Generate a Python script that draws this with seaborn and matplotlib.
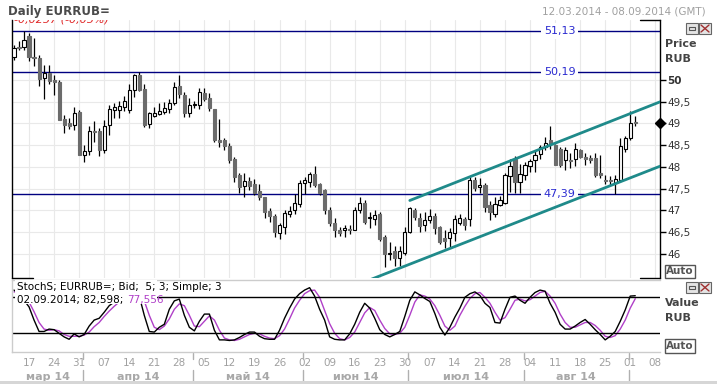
import numpy as np
import pandas as pd
import matplotlib
matplotlib.use("Agg")
import matplotlib.pyplot as plt
import seaborn as sns
from matplotlib.patches import Rectangle
from matplotlib.lines import Line2D

sns.set_style("white")
plt.rcParams['font.family'] = ['DejaVu Sans']

# ---- daily candles EURRUB=, trading days 12.03.2014 .. 02.09.2014
opens = [50.52, 50.76, 50.75, 51.00, 50.53, 50.51, 50.05, 50.16, 50.01, 49.95,
         49.11, 49.01, 48.96, 49.26, 48.27, 48.36, 48.82, 48.83, 48.40, 48.96,
         49.32, 49.30, 49.37, 49.30, 49.78, 50.11, 49.79, 48.99, 49.17, 49.22,
         49.27, 49.33, 49.48, 49.86, 49.66, 49.23, 49.42, 49.43, 49.71, 49.58,
         49.33, 48.62, 48.62, 48.48, 48.18, 47.82, 47.56, 47.68, 47.61, 47.45,
         47.30, 46.99, 46.87, 46.49, 46.63, 46.92, 47.00, 47.15, 47.63, 47.66,
         47.84, 47.61, 47.46, 47.01, 46.72, 46.55, 46.54, 46.58, 46.54, 47.00,
         47.18, 46.83, 46.80, 46.92, 46.40, 46.01, 46.06, 45.90, 46.03, 46.51,
         47.00, 46.82, 46.67, 46.77, 46.87, 46.61, 46.36, 46.36, 46.49, 46.72,
         46.80, 46.80, 47.69, 47.53, 47.59, 47.13, 46.92, 47.13, 47.17, 47.79,
         48.18, 47.66, 47.82, 48.02, 48.15, 48.30, 48.45, 48.62, 48.51, 48.41,
         48.16, 48.15, 48.18, 48.39, 48.24, 48.20, 48.20, 47.86, 47.70, 47.69,
         47.64, 47.70, 48.41, 48.66, 49.03]
highs = [50.81, 50.90, 51.13, 51.08, 50.97, 50.58, 50.35, 50.34, 50.12, 50.01,
         49.20, 49.13, 49.37, 49.32, 48.50, 48.94, 49.05, 48.90, 49.09, 49.42,
         49.47, 49.52, 49.63, 49.91, 50.14, 50.19, 49.91, 49.27, 49.37, 49.46,
         49.50, 49.56, 49.96, 50.11, 49.73, 49.59, 49.52, 49.81, 49.81, 49.69,
         49.33, 49.10, 48.66, 48.54, 48.22, 47.87, 47.87, 47.78, 47.72, 47.61,
         47.31, 47.05, 46.92, 46.72, 47.02, 47.10, 47.37, 47.70, 47.78, 47.89,
         48.02, 47.64, 47.49, 47.08, 46.82, 46.62, 46.66, 46.66, 47.08, 47.32,
         47.24, 46.97, 47.02, 46.97, 46.44, 46.27, 46.18, 46.18, 46.63, 47.08,
         47.06, 46.95, 46.97, 47.03, 46.95, 46.65, 46.55, 46.59, 46.89, 46.91,
         46.86, 47.78, 47.78, 47.74, 47.63, 47.22, 47.30, 47.33, 47.87, 48.18,
         48.25, 48.08, 48.11, 48.18, 48.37, 48.51, 48.70, 48.94, 48.53, 48.45,
         48.45, 48.33, 48.54, 48.41, 48.32, 48.27, 48.32, 48.28, 47.82, 47.79,
         47.82, 48.66, 48.71, 49.29, 49.17]
lows = [50.47, 50.68, 50.70, 50.43, 50.32, 49.86, 49.57, 49.91, 49.65, 49.09,
        48.78, 48.88, 48.86, 48.27, 48.11, 48.28, 48.57, 48.25, 48.32, 48.74,
        49.13, 49.13, 49.28, 49.25, 49.60, 49.75, 48.93, 48.89, 49.14, 49.20,
        49.22, 49.23, 49.43, 49.58, 49.14, 49.14, 49.35, 49.33, 49.52, 49.29,
        48.57, 48.45, 48.40, 48.10, 47.66, 47.41, 47.30, 47.46, 47.35, 47.24,
        46.82, 46.74, 46.40, 46.34, 46.47, 46.85, 46.93, 47.09, 47.39, 47.53,
        47.55, 47.36, 46.93, 46.64, 46.40, 46.41, 46.38, 46.45, 46.54, 46.94,
        46.70, 46.59, 46.66, 46.31, 45.71, 45.87, 45.72, 45.72, 45.98, 46.49,
        46.78, 46.51, 46.53, 46.71, 46.45, 46.22, 46.13, 46.16, 46.31, 46.66,
        46.56, 46.64, 47.44, 47.40, 46.96, 46.78, 46.86, 47.10, 47.15, 47.43,
        47.40, 47.40, 47.71, 47.89, 47.89, 48.18, 48.39, 48.41, 48.05, 47.99,
        47.93, 47.97, 48.02, 48.20, 48.05, 48.10, 47.77, 47.74, 47.60, 47.59,
        47.39, 47.66, 48.35, 48.62, 48.94]
closes = [50.74, 50.74, 50.92, 50.52, 50.51, 50.03, 50.16, 49.98, 49.95, 49.09,
          48.97, 48.94, 49.24, 48.27, 48.36, 48.82, 48.80, 48.40, 48.94, 49.34,
          49.37, 49.40, 49.51, 49.78, 50.11, 49.77, 48.97, 49.23, 49.25, 49.29,
          49.35, 49.48, 49.83, 49.68, 49.23, 49.43, 49.44, 49.73, 49.56, 49.35,
          48.61, 48.58, 48.48, 48.16, 47.78, 47.55, 47.68, 47.56, 47.41, 47.30,
          46.97, 46.87, 46.51, 46.67, 46.94, 46.99, 47.18, 47.63, 47.69, 47.84,
          47.59, 47.40, 47.00, 46.71, 46.54, 46.49, 46.59, 46.56, 47.01, 47.18,
          46.74, 46.85, 46.90, 46.34, 46.00, 46.03, 45.90, 46.08, 46.51, 47.05,
          46.84, 46.64, 46.78, 46.87, 46.59, 46.28, 46.30, 46.51, 46.80, 46.82,
          46.67, 47.69, 47.51, 47.59, 47.09, 46.97, 47.15, 47.23, 47.82, 48.02,
          47.66, 47.84, 48.05, 48.14, 48.28, 48.45, 48.56, 48.53, 48.05, 48.05,
          48.39, 48.13, 48.41, 48.24, 48.18, 48.16, 47.82, 47.82, 47.68, 47.67,
          47.72, 48.48, 48.66, 49.02, 49.01]

# StochS 5;3 : %K (black) and %D (purple)
stoch_k = [92, 85, 75, 64, 42, 23, 23, 27, 26, 20,
           14, 10, 19, 14, 18, 32, 42, 45, 55, 66,
           72, 80, 88, 92, 90, 82, 50, 23, 22, 30,
           35, 60, 74, 77, 50, 30, 24, 40, 52, 52,
           25, 9, 9, 8, 9, 13, 18, 22, 22, 15,
           11, 10, 10, 25, 45, 62, 77, 86, 92, 96,
           82, 60, 42, 14, 10, 9, 9, 19, 35, 55,
           70, 62, 45, 26, 18, 14, 18, 23, 48, 75,
           89, 84, 78, 73, 53, 30, 17, 30, 47, 62,
           80, 86, 89, 83, 70, 63, 38, 37, 60, 80,
           82, 75, 70, 80, 88, 92, 90, 70, 55, 35,
           27, 27, 32, 38, 43, 35, 26, 18, 9, 15,
           23, 40, 59, 82, 82.6]
stoch_d = [89, 88, 83, 72, 56, 38, 27, 25, 26, 24,
           18, 15, 15, 15, 17, 22, 31, 38, 48, 57,
           65, 72, 80, 86, 90, 88, 74, 50, 30, 26,
           32, 44, 60, 69, 66, 50, 32, 31, 40, 49,
           42, 25, 12, 9, 8, 10, 14, 18, 20, 19,
           15, 12, 11, 16, 27, 44, 62, 75, 86, 91,
           92, 80, 58, 36, 20, 11, 9, 13, 22, 38,
           54, 63, 58, 42, 28, 19, 18, 20, 30, 50,
           72, 84, 82, 77, 66, 50, 32, 25, 32, 50,
           65, 78, 86, 88, 80, 70, 55, 42, 46, 60,
           75, 77, 74, 76, 82, 88, 90, 82, 70, 52,
           38, 30, 30, 34, 38, 38, 33, 25, 15, 13,
           16, 27, 42, 62, 77.6]

levels = [51.13, 50.19, 47.39]
level_labels = ["51,13", "50,19", "47,39"]
# trend channel (trading-day index, price)
upper_x = [79, 129]
upper_y = [47.23, 49.50]
lower_x = [70, 129]
lower_y = [45.36, 48.02]
last_price = 49.0
month_names = ["мар 14", "апр 14", "май 14", "июн 14", "июл 14", "авг 14", "сен 14"]

dates = pd.bdate_range("2014-03-12", "2014-09-08")
df = pd.DataFrame({"o": opens, "h": highs, "l": lows, "c": closes})
df["x"] = np.arange(len(df))
df["up"] = df["c"] >= df["o"]

fig = plt.figure(figsize=(7.17, 3.84), dpi=100)
W, H = 717, 384

def fx(px):
    return px / W

def fy(py):
    return 1 - py / H

XL = (-0.4, 128.94)

# ---------------- price panel
ax = fig.add_axes([fx(12), fy(278), fx(660) - fx(12), fy(20) - fy(278)])
mondays = [i for i, d in enumerate(dates) if d.weekday() == 0]
ax.set_xticks(mondays)
ax.set_yticks(np.arange(46, 50.01, 0.5))
ax.grid(True, color="#e9e9e9", lw=0.8)
ax.set_axisbelow(True)

# wicks + bodies
ax.vlines(df["x"], df["l"], df["h"], color="black", lw=0.9, zorder=2)
body_lo = np.minimum(df["o"], df["c"])
body_h = np.maximum((df["c"] - df["o"]).abs(), 0.015)
ax.bar(df["x"][df["up"]], body_h[df["up"]], bottom=body_lo[df["up"]], width=0.62,
       color="white", edgecolor="black", lw=0.8, zorder=3)
ax.bar(df["x"][~df["up"]], body_h[~df["up"]], bottom=body_lo[~df["up"]], width=0.62,
       color="#6b6b6b", edgecolor="#6b6b6b", lw=0.8, zorder=3)

for lv, lab in zip(levels, level_labels):
    ax.axhline(lv, color="#000080", lw=1, zorder=1.5)
    ax.text(108.9, lv, lab, ha="center", va="center", fontsize=8, color="#2a2ad0",
            bbox=dict(boxstyle="square,pad=0.25", fc="white", ec="none"), zorder=4)

ax.plot(upper_x, upper_y, color="#1f8a8a", lw=2, zorder=5)
ax.plot(lower_x, lower_y, color="#1f8a8a", lw=2, zorder=5)

ax.set_xlim(*XL)
ax.set_ylim(45.448, 51.379)
ax.yaxis.tick_right()
ax.set_yticklabels([("%g" % v).replace(".", ",") for v in np.arange(46, 50.01, 0.5)])
ax.tick_params(axis="y", direction="out", length=4, width=1, color="black",
               labelsize=7.5, labelcolor="#333333", pad=1)
ax.tick_params(axis="x", length=0, labelbottom=False)
for t in ax.get_yticklabels():
    if t.get_text() == "50":
        t.set_fontweight("bold")
for s in ["top", "bottom"]:
    ax.spines[s].set_visible(False)
for s in ["left", "right"]:
    ax.spines[s].set_color("black")
    ax.spines[s].set_linewidth(1)
for xs, yy in [([0, 0.033], 0), ([0.969, 1], 0), ([0.969, 1], 1)]:
    ax.plot(xs, [yy, yy], transform=ax.transAxes, color="black", lw=1, clip_on=False)

ax.plot([1], [last_price], marker="D", ms=5, color="black",
        transform=ax.get_yaxis_transform(), clip_on=False, zorder=6)
# change text, cut off by the top of the panel
chg = ax.text(0.003, 1.0 - 3 / 258, "-0,0257 (-0,05%)", transform=ax.transAxes,
              ha="left", va="baseline", fontsize=8, color="#e02828", style="italic")
chg.set_clip_box(ax.bbox)
chg.set_clip_on(True)

# ---------------- stochastic panel
ax2 = fig.add_axes([fx(12), fy(352), fx(660) - fx(12), fy(280) - fy(352)])
sns.lineplot(x=df["x"], y=stoch_d, color="#b040c8", lw=1, ax=ax2)
sns.lineplot(x=df["x"], y=stoch_k, color="black", lw=1, ax=ax2)
ax2.axhline(80, color="black", lw=1)
ax2.axhline(20, color="black", lw=1)
ax2.set_xlim(*XL)
ax2.set_ylim(-11.2, 108.8)
ax2.set_yticks([])
ax2.set_xlabel("")
ax2.set_ylabel("")
ax2.spines["right"].set_visible(False)
for s in ["left", "bottom", "top"]:
    ax2.spines[s].set_color("#cccccc")
    ax2.spines[s].set_linewidth(1)

ax2.add_patch(Rectangle((0.004, 0.667), 0.22, 0.34, transform=ax2.transAxes,
                        fc="white", ec="none", zorder=5))
ax2.text(0.008, 0.90, "StochS; EURRUB=; Bid;  5; 3; Simple; 3", transform=ax2.transAxes,
         ha="left", va="center", fontsize=7.5, color="black", zorder=6)
t1 = ax2.text(0.008, 0.72, "02.09.2014; 82,598; ", transform=ax2.transAxes,
              ha="left", va="center", fontsize=7.5, color="black", zorder=6)
ax2.annotate("77,556", xycoords=t1, xy=(1, 0.5), va="center", ha="left",
             fontsize=7.5, color="#b040c8", zorder=6)

# date axis
ax2.set_xticks(mondays)
ax2.set_xticklabels([dates[i].strftime("%d") for i in mondays])
ax2.tick_params(axis="x", length=0, pad=4, labelsize=7.5, labelcolor="#a0a0a0")

month_starts = [0] + [i for i in range(1, len(dates)) if dates[i].month != dates[i - 1].month]
bounds = month_starts + [XL[1]]
for k, ms in enumerate(month_starts):
    if k > 0:
        ax2.plot([ms - 0.3] * 2, [-0.02, -0.10], transform=ax2.get_xaxis_transform(),
                 color="#b0b0b0", lw=1, clip_on=False)
        ax2.plot([ms - 0.3] * 2, [-0.25, -0.42], transform=ax2.get_xaxis_transform(),
                 color="#b0b0b0", lw=1, clip_on=False)
    lo = max(ms - 0.3, XL[0])
    hi = bounds[k + 1] - 0.3
    if hi - lo > 10:
        ax2.text((lo + hi) / 2, -0.35, month_names[k], transform=ax2.get_xaxis_transform(),
                 ha="center", va="center", fontsize=8, fontweight="bold", color="#a8a8a8")

# white mask above the price panel (hides top of the change text)
fig.patches.append(Rectangle((fx(12.5), fy(19.5)), fx(110), fy(10) - fy(19.5),
                             transform=fig.transFigure, fc="white", ec="none", zorder=2))

# ---------------- header & side labels
fig.text(fx(8), fy(11), "Daily EURRUB=", fontsize=8.5, fontweight="bold",
         color="#4a4a4a", ha="left", va="center", zorder=3)
fig.text(fx(706), fy(11), "12.03.2014 - 08.09.2014 (GMT)", fontsize=7.5,
         color="#a0a0a0", ha="right", va="center")
for txt, py in [("Price", 44), ("RUB", 59), ("Value", 303), ("RUB", 318)]:
    fig.text(fx(665), fy(py), txt, fontsize=8, fontweight="bold", color="#444444",
             ha="left", va="center")
for py in [271.5, 346]:
    fig.text(fx(680), fy(py), "Auto", fontsize=7.5, fontweight="bold", color="#555555",
             ha="center", va="center",
             bbox=dict(boxstyle="square,pad=0.15", fc="white", ec="#555555", lw=1))

# window buttons
for top in [23, 282]:
    for left in [686, 699]:
        fig.patches.append(Rectangle((fx(left), fy(top + 11)), fx(12), fy(top) - fy(top + 11),
                                     transform=fig.transFigure, fc="#e4e4e4", ec="#666666", lw=0.8))
    fig.patches.append(Rectangle((fx(689), fy(top + 7)), fx(6), fy(top + 4) - fy(top + 7),
                                 transform=fig.transFigure, fc="none", ec="#555555", lw=0.8))
    fig.lines.append(Line2D([fx(701), fx(709)], [fy(top + 2), fy(top + 9)],
                            transform=fig.transFigure, color="#a03030", lw=1))
    fig.lines.append(Line2D([fx(701), fx(709)], [fy(top + 9), fy(top + 2)],
                            transform=fig.transFigure, color="#a03030", lw=1))

fig.patches.append(Rectangle((0, 0), 1, fy(381), transform=fig.transFigure,
                             fc="#d6d6d6", ec="none"))

fig.savefig("out.png", dpi=100)
